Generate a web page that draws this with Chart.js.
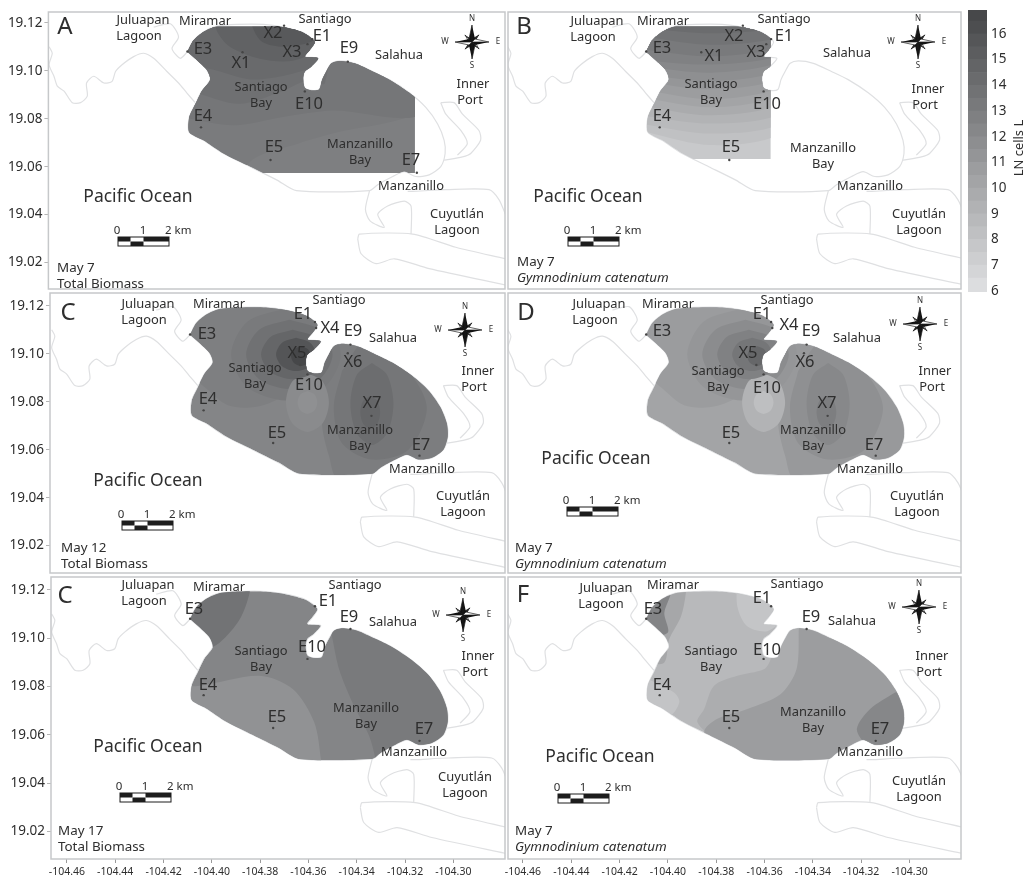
<!DOCTYPE html>
<html>
<head>
<meta charset="utf-8">
<title>Biomass maps</title>
<script src="https://cdn.jsdelivr.net/npm/chart.js@4/dist/chart.umd.min.js"></script>
<style>
  html, body { margin: 0; padding: 0; background: #fff; }
  body { width: 1029px; height: 878px; position: relative; overflow: hidden; }
  canvas { position: absolute; }
</style>
</head>
<body>
<script>
/*
  ==================================================
  ====================== DATA ======================
  ==================================================
*/
const lonTicks = [-104.46, -104.44, -104.42, -104.40, -104.38, -104.36, -104.34, -104.32, -104.30];
const latTicks = [19.12, 19.10, 19.08, 19.06, 19.04, 19.02];
const colorbarTicks = [6, 7, 8, 9, 10, 11, 12, 13, 14, 15, 16];
const colorbarEdges = [5.96, 6.5, 7, 7.5, 8, 8.5, 9, 9.5, 10, 10.5, 11, 11.5, 12, 12.5, 13, 13.5, 14, 14.5, 15, 15.5, 16, 16.5, 16.93];

const domainOutline = [[-104.409,19.1079],[-104.4065,19.1127],[-104.4024,19.1162],[-104.3969,19.1186],[-104.3886,19.1193],[-104.3776,19.1193],[-104.3694,19.1182],[-104.3611,19.1159],[-104.3563,19.1121],[-104.3584,19.1086],[-104.3604,19.1059],[-104.3549,19.1052],[-104.3577,19.1018],[-104.3604,19.0997],[-104.3611,19.097],[-104.3604,19.0929],[-104.3577,19.0918],[-104.3545,19.0922],[-104.3532,19.0963],[-104.3515,19.0997],[-104.3494,19.1031],[-104.346,19.1041],[-104.3398,19.1031],[-104.3323,19.0997],[-104.3254,19.0963],[-104.3171,19.0908],[-104.3103,19.0847],[-104.3054,19.0778],[-104.3027,19.071],[-104.3023,19.0655],[-104.3041,19.06],[-104.3089,19.0566],[-104.3144,19.0559],[-104.3192,19.0579],[-104.324,19.0559],[-104.3302,19.0525],[-104.3336,19.05],[-104.3639,19.05],[-104.3721,19.0545],[-104.3831,19.06],[-104.3941,19.0655],[-104.4024,19.071],[-104.4083,19.0744],[-104.4083,19.0805],[-104.4058,19.086],[-104.4031,19.0915],[-104.3996,19.0963],[-104.401,19.1004],[-104.4051,19.1045]];

const coastWest = [[-104.4663,19.11],[-104.465,19.1073],[-104.4663,19.1025],[-104.4643,19.0977],[-104.4629,19.0936],[-104.4601,19.0915],[-104.4567,19.0867],[-104.4533,19.0867],[-104.4505,19.0894],[-104.4508,19.0949],[-104.4478,19.0977],[-104.4436,19.0949],[-104.4402,19.0956],[-104.4388,19.0997],[-104.4361,19.1025],[-104.4313,19.1059],[-104.4271,19.1073],[-104.423,19.1052],[-104.4175,19.0997],[-104.4127,19.0949],[-104.4093,19.0908],[-104.4058,19.0867]];
const coastLagoon = [[-104.423,19.1182],[-104.4161,19.1196],[-104.4127,19.1141],[-104.4154,19.1093],[-104.412,19.1052],[-104.409,19.1079]];
const coastPortOuter = [[-104.3041,19.0867],[-104.2986,19.0867],[-104.2951,19.0819],[-104.2883,19.0751],[-104.2876,19.071],[-104.2917,19.0655],[-104.2951,19.0641],[-104.3027,19.0627]];
const coastPortInner = [[-104.3041,19.0867],[-104.302,19.0819],[-104.2958,19.0751],[-104.2931,19.0696],[-104.2972,19.0648]];
const coastManzanillo = [[-104.3336,19.05],[-104.3353,19.0422],[-104.3334,19.0374],[-104.3275,19.0347],[-104.3302,19.0401],[-104.3261,19.0436],[-104.3192,19.0456],[-104.3164,19.0436],[-104.3164,19.0319]];
const coastCuyutlan = [[-104.3178,19.0497],[-104.3158,19.0497],[-104.302,19.0504],[-104.2841,19.0504],[-104.28,19.0463],[-104.2773,19.0401]];
const coastBarNorth = [[-104.3385,19.0299],[-104.3378,19.0319],[-104.3158,19.0319],[-104.2979,19.0264],[-104.2773,19.0216]];
const coastBarSouth = [[-104.3385,19.0299],[-104.3371,19.0237],[-104.3309,19.0196],[-104.3233,19.0216],[-104.3089,19.0175],[-104.2773,19.0107]];
const coastLines = [coastWest, coastLagoon, coastPortOuter, coastPortInner, coastManzanillo, coastCuyutlan, coastBarNorth, coastBarSouth];

const E1 = [-104.3573,19.1132], E3 = [-104.409,19.108], E4 = [-104.4034,19.0764], E5 = [-104.3746,19.0628], E7 = [-104.314,19.0575], E9 = [-104.3426,19.1038], E10 = [-104.3604,19.0914];
const X1 = [-104.3862,19.1077], X2 = [-104.369,19.1188], X3 = [-104.3593,19.1111], X4 = [-104.3568,19.1107], X5 = [-104.3634,19.0953], X6 = [-104.3437,19.1002], X7 = [-104.3339,19.0741];
const stationsA = [E1,E3,E4,E5,E7,E9,E10,X1,X2,X3];
const stationsB = [E1,E3,E4,E5,E10,X1,X2,X3];
const stationsC = [E1,E3,E4,E5,E7,E9,E10,X4,X5,X6,X7];
const stationsD = [E1,E3,E5,E7,E9,E10,X4,X5,X6,X7];
const stationsLow = [E1,E3,E4,E5,E7,E9,E10];

// far corners, always outside the clipped sea area
const NW = [-104.47,19.14], NE = [-104.27,19.14], SE = [-104.27,19.0], SW = [-104.47,19.0];

const contoursA = [
  [[-104.39,19.05],[-104.382,19.063],[-104.363,19.0697],[-104.349,19.0738],[-104.31,19.085],NE,NW,SW],
  [[-104.415,19.0814],[-104.39,19.0773],[-104.3695,19.0807],[-104.349,19.0834],[-104.31,19.0827],NE,NW],
  [[-104.41,19.092],[-104.404,19.0903],[-104.3875,19.0862],[-104.3695,19.0916],[-104.36,19.0957],[-104.352,19.095],[-104.352,19.13],[-104.41,19.13]],
  [[-104.41,19.103],[-104.3985,19.1005],[-104.383,19.0964],[-104.3695,19.0978],[-104.3588,19.1005],[-104.352,19.1005],[-104.352,19.13],[-104.41,19.13]],
  [[-104.397,19.122],[-104.397,19.117],[-104.3916,19.1101],[-104.379,19.105],[-104.3655,19.1042],[-104.355,19.1095],[-104.352,19.122]],
  [[-104.382,19.122],[-104.382,19.118],[-104.378,19.112],[-104.3685,19.11],[-104.3565,19.1129],[-104.352,19.122]]
];
const baseA = 12.8;
const levelsA = [13.1, 13.5, 13.9, 14.3, 14.9, 15.5];

const contoursB = [
  [[-104.415,19.076],[-104.382,19.069],[-104.352,19.0745],NE,NW],
  [[-104.415,19.0786],[-104.382,19.0738],[-104.352,19.0786],NE,NW],
  [[-104.415,19.082],[-104.382,19.078],[-104.352,19.0827],NE,NW],
  [[-104.415,19.0862],[-104.382,19.0814],[-104.352,19.0868],NE,NW],
  [[-104.415,19.0896],[-104.382,19.0848],[-104.352,19.0903],NE,NW],
  [[-104.415,19.093],[-104.382,19.0882],[-104.352,19.0937],NE,NW],
  [[-104.415,19.0964],[-104.382,19.0923],[-104.352,19.0971],NE,NW],
  [[-104.415,19.0992],[-104.382,19.0957],[-104.352,19.1005],NE,NW],
  [[-104.415,19.1026],[-104.382,19.0992],[-104.352,19.104],NE,NW],
  [[-104.415,19.1047],[-104.382,19.1026],[-104.352,19.1067],NE,NW],
  [[-104.415,19.1095],[-104.382,19.106],[-104.352,19.1101],NE,NW],
  [[-104.415,19.115],[-104.382,19.1108],[-104.352,19.1142],NE,NW],
  [[-104.415,19.1184],[-104.382,19.1156],[-104.352,19.1184],NE,NW]
];
const baseB = 7.6;
const levelsB = [8.2, 8.7, 9.2, 9.7, 10.2, 10.7, 11.2, 11.7, 12.2, 12.7, 13.2, 13.7, 14.2];

const contoursMay12 = [
  [[-104.42,19.1],[-104.4029,19.086],[-104.3933,19.0785],[-104.3823,19.0778],[-104.3713,19.0819],[-104.3603,19.0929],[-104.3575,19.125],[-104.42,19.125]],
  [[-104.3502,19.1066],[-104.3535,19.0914],[-104.3544,19.0708],[-104.3514,19.0572],[-104.3473,19.0476],[-104.2952,19.0476],[-104.2952,19.1066]],
  [[-104.3461,19.0928],[-104.3495,19.0777],[-104.3461,19.0627],[-104.3337,19.0559],[-104.3186,19.06],[-104.311,19.0777],[-104.3199,19.0941],[-104.3364,19.1051],[-104.3461,19.0928]],
  [[-104.3337,19.0961],[-104.3274,19.0911],[-104.3248,19.079],[-104.3274,19.0669],[-104.3337,19.0619],[-104.34,19.0669],[-104.3426,19.079],[-104.34,19.0911],[-104.3337,19.0961]],
  [[-104.3344,19.0824],[-104.3315,19.0804],[-104.3303,19.0756],[-104.3315,19.0708],[-104.3344,19.0688],[-104.3373,19.0708],[-104.3385,19.0756],[-104.3373,19.0804],[-104.3344,19.0824]],
  [[-104.3693,19.1189],[-104.3533,19.1133],[-104.3466,19.0997],[-104.3533,19.0861],[-104.3693,19.0805],[-104.3853,19.0861],[-104.392,19.0997],[-104.3853,19.1133],[-104.3693,19.1189]],
  [[-104.3679,19.1141],[-104.3553,19.1099],[-104.35,19.0997],[-104.3553,19.0895],[-104.3679,19.0853],[-104.3805,19.0895],[-104.3858,19.0997],[-104.3805,19.1099],[-104.3679,19.1141]],
  [[-104.3604,19.092],[-104.3541,19.0884],[-104.3515,19.0797],[-104.3541,19.071],[-104.3604,19.0674],[-104.3667,19.071],[-104.3693,19.0797],[-104.3667,19.0884],[-104.3604,19.092]],
  [[-104.3604,19.0845],[-104.3575,19.0831],[-104.3563,19.0797],[-104.3575,19.0763],[-104.3604,19.0749],[-104.3633,19.0763],[-104.3645,19.0797],[-104.3633,19.0831],[-104.3604,19.0845]],
  [[-104.3665,19.11],[-104.3573,19.107],[-104.3534,19.0997],[-104.3573,19.0924],[-104.3665,19.0894],[-104.3757,19.0924],[-104.3796,19.0997],[-104.3757,19.107],[-104.3665,19.11]],
  [[-104.3651,19.1066],[-104.3593,19.1046],[-104.3568,19.0997],[-104.3593,19.0948],[-104.3651,19.0928],[-104.3709,19.0948],[-104.3734,19.0997],[-104.3709,19.1046],[-104.3651,19.1066]],
  [[-104.3631,19.1031],[-104.3602,19.1019],[-104.359,19.099],[-104.3602,19.0961],[-104.3631,19.0949],[-104.366,19.0961],[-104.3672,19.099],[-104.366,19.1019],[-104.3631,19.1031]]
];
const baseC = 12.4;
const levelsC = [12.8, 13.0, 13.5, 14.1, 14.6, 13.2, 13.8, 12.0, 11.6, 14.6, 15.8, 16.8];
const baseD = 10.2;
const levelsD = [10.8, 11.0, 11.6, 12.2, 12.9, 11.2, 11.9, 9.2, 8.3, 12.7, 13.5, 14.5];

const contoursE = [
  [[-104.3844,19.125],[-104.3844,19.1186],[-104.3885,19.1077],[-104.3968,19.0981],[-104.41,19.09],SW,NW],
  [[-104.42,19.08],[-104.405,19.0803],[-104.3803,19.0844],[-104.3665,19.0789],[-104.3576,19.0652],[-104.3548,19.0497],[-104.354,19.04],SW],
  [[-104.352,19.11],[-104.35,19.0995],[-104.3473,19.0871],[-104.3418,19.0734],[-104.3349,19.0597],[-104.3322,19.0497],[-104.331,19.04],SE,NE]
];
const baseE = 12.4;
const levelsE = [13.7, 11.5, 13.2];

const contoursF = [
  [[-104.3926,19.125],[-104.3926,19.1186],[-104.3946,19.109],[-104.3995,19.0995],[-104.4015,19.0899],[-104.4084,19.0892],[-104.42,19.089],[-104.42,19.125]],
  [[-104.3988,19.125],[-104.3988,19.1186],[-104.4015,19.1104],[-104.4001,19.1022],[-104.4098,19.1008],[-104.42,19.1],[-104.42,19.125]],
  [[-104.3713,19.125],[-104.3713,19.1132],[-104.3672,19.1049],[-104.3589,19.1029],[-104.3534,19.1077],[-104.3534,19.125]],
  [[-104.3548,19.1008],[-104.3575,19.0912],[-104.3603,19.0871],[-104.3713,19.0844],[-104.3809,19.0803],[-104.385,19.0707],[-104.3878,19.0652],[-104.3795,19.057],[-104.3713,19.0488],SE,NE],
  [[-104.3458,19.1049],[-104.3468,19.0871],[-104.3534,19.0768],[-104.3671,19.0707],[-104.3795,19.0666],[-104.385,19.0611],[-104.38,19.04],SE,NE],
  [[-104.306,19.0775],[-104.3163,19.0707],[-104.3218,19.0625],[-104.3183,19.0556],[-104.31,19.04],SE,[-104.29,19.08]],
  [[-104.41,19.084],[-104.3975,19.0775],[-104.3953,19.0735],[-104.3995,19.0675],[-104.41,19.067]]
];
const baseF = 8.75;
const levelsF = [10.0, 12.5, 7.9, 9.6, 10.7, 12.3, 8.0];

/* map labels: text, page x, page y, kind */
const labelsA = [['A',65,27,'l'],['Juluapan',143,20,'m'],['Lagoon',139,36,'m'],['Miramar',205,21,'m'],['Santiago',325,19,'m'],['Salahua',399,55,'m'],['Inner',473,84,'m'],['Port',470,100,'m'],['Santiago',261,87,'m'],['Bay',261,103,'m'],['Manzanillo',360,144,'m'],['Bay',360,160,'m'],['Manzanillo',411,186,'m'],['Cuyutlán',457,214,'m'],['Lagoon',457,230,'m'],['Pacific Ocean',138,197,'o'],['E3',203,49,'b'],['E4',203,116,'b'],['E5',274,147,'b'],['E7',411,160,'b'],['E10',309,104,'b'],['E1',322,36,'b'],['E9',349,48,'b'],['X1',241,63,'b'],['X2',273,33,'b'],['X3',292,52,'b'],['May 7',57,268,'d'],['Total Biomass',57,284,'d']];
const labelsB = [['B',524,27,'l'],['Juluapan',597,21,'m'],['Lagoon',593,37,'m'],['Miramar',663,21,'m'],['Santiago',784,19,'m'],['Salahua',847,53,'m'],['Inner',928,89,'m'],['Port',925,105,'m'],['Santiago',711,84,'m'],['Bay',711,100,'m'],['Manzanillo',823,148,'m'],['Bay',823,164,'m'],['Manzanillo',870,186,'m'],['Cuyutlán',919,214,'m'],['Lagoon',919,230,'m'],['Pacific Ocean',588,197,'o'],['E3',662,48,'b'],['X1',714,56,'b'],['X2',734,36,'b'],['X3',756,52,'b'],['E1',784,36,'b'],['E4',662,116,'b'],['E10',767,104,'b'],['E5',731,147,'b'],['May 7',517,262,'d'],['Gymnodinium catenatum',517,278,'i']];
const labelsC = [['C',68,313,'l'],['Juluapan',148,304,'m'],['Lagoon',144,320,'m'],['Miramar',219,304,'m'],['Santiago',339,300,'m'],['Salahua',393,338,'m'],['Inner',478,371,'m'],['Port',474,387,'m'],['Santiago',255,368,'m'],['Bay',255,384,'m'],['Manzanillo',360,430,'m'],['Bay',360,446,'m'],['Manzanillo',422,469,'m'],['Cuyutlán',463,496,'m'],['Lagoon',463,512,'m'],['Pacific Ocean',148,481,'o'],['E3',207,334,'b'],['E1',303,314,'b'],['X4',330,328,'b'],['E9',353,331,'b'],['X5',297,353,'b'],['X6',353,362,'b'],['E10',309,385,'b'],['E4',208,399,'b'],['X7',372,403,'b'],['E5',277,433,'b'],['E7',421,445,'b'],['May 12',61,548,'d'],['Total Biomass',61,564,'d']];
const labelsD = [['D',526,313,'l'],['Juluapan',599,304,'m'],['Lagoon',595,320,'m'],['Miramar',668,304,'m'],['Santiago',787,300,'m'],['Salahua',857,338,'m'],['Inner',935,371,'m'],['Port',932,387,'m'],['Santiago',718,371,'m'],['Bay',718,387,'m'],['Manzanillo',813,430,'m'],['Bay',813,446,'m'],['Manzanillo',870,469,'m'],['Cuyutlán',917,496,'m'],['Lagoon',917,512,'m'],['Pacific Ocean',596,459,'o'],['E3',662,331,'b'],['E1',762,314,'b'],['X4',789,325,'b'],['E9',811,331,'b'],['X5',748,353,'b'],['X6',805,362,'b'],['E10',767,388,'b'],['X7',827,403,'b'],['E5',731,433,'b'],['E7',874,445,'b'],['May 7',515,548,'d'],['Gymnodinium catenatum',515,564,'i']];
const labelsE = [['C',65,596,'l'],['Juluapan',148,585,'m'],['Lagoon',144,601,'m'],['Miramar',219,587,'m'],['Santiago',355,585,'m'],['Salahua',393,622,'m'],['Inner',478,656,'m'],['Port',475,672,'m'],['Santiago',261,651,'m'],['Bay',261,667,'m'],['Manzanillo',366,708,'m'],['Bay',366,724,'m'],['Manzanillo',414,752,'m'],['Cuyutlán',465,777,'m'],['Lagoon',465,793,'m'],['Pacific Ocean',148,747,'o'],['E3',194,609,'b'],['E1',328,601,'b'],['E9',349,617,'b'],['E10',312,647,'b'],['E4',208,685,'b'],['E5',277,717,'b'],['E7',424,729,'b'],['May 17',58,831,'d'],['Total Biomass',58,847,'d']];
const labelsF = [['F',523,595,'l'],['Juluapan',606,588,'m'],['Lagoon',601,604,'m'],['Miramar',673,585,'m'],['Santiago',797,584,'m'],['Salahua',852,621,'m'],['Inner',932,656,'m'],['Port',929,672,'m'],['Santiago',711,651,'m'],['Bay',711,667,'m'],['Manzanillo',813,712,'m'],['Bay',813,728,'m'],['Manzanillo',870,752,'m'],['Cuyutlán',919,781,'m'],['Lagoon',919,797,'m'],['Pacific Ocean',600,757,'o'],['E3',653,609,'b'],['E1',762,598,'b'],['E9',811,617,'b'],['E10',767,650,'b'],['E4',662,685,'b'],['E5',731,717,'b'],['E7',880,729,'b'],['May 7',515,831,'d'],['Gymnodinium catenatum',515,847,'i']];

/*
  ==================================================
  ===================== LAYOUT =====================
  ==================================================
*/
const FONT = '"Noto Sans", sans-serif';
const INK = '#2e2e2e';
const COAST = '#dfe0e2';
const FRAME = '#c6c8ca';
const labelFonts = {
  m: `12.9px ${FONT}`, b: `16.5px ${FONT}`, o: `17.5px ${FONT}`, l: `24px ${FONT}`,
  d: `13.4px ${FONT}`, i: `italic 13.4px ${FONT}`
};

const panels = [
  { l: 48.4, r: 507, t: 10, b: 291, lon: [-104.4666, -104.2775], lat: [19.1245, 19.009], left: true, bottom: false,
    contours: contoursA, levels: levelsA, base: baseA, stations: stationsA, labels: labelsA, scaleBar: [118, 237], compass: [472, 42],
    limit: { lon: -104.3148, latLow: 19.0574, latHigh: 19.1184 } },
  { l: 508, r: 963, t: 10, b: 291, lon: [-104.4662, -104.2787], lat: [19.1245, 19.009], left: false, bottom: false,
    contours: contoursB, levels: levelsB, base: baseB, stations: stationsB, labels: labelsB, scaleBar: [568, 237], compass: [918, 42],
    limit: { lon: -104.3575, latLow: 19.0632, latHigh: 19.1184 } },
  { l: 50, r: 507, t: 291, b: 575, lon: [-104.467, -104.2786], lat: [19.1253, 19.0086], left: true, bottom: false,
    contours: contoursMay12, levels: levelsC, base: baseC, stations: stationsC, labels: labelsC, scaleBar: [122, 521], compass: [465, 330] },
  { l: 508, r: 963, t: 291, b: 575, lon: [-104.4662, -104.2787], lat: [19.1253, 19.0086], left: false, bottom: false,
    contours: contoursMay12, levels: levelsD, base: baseD, stations: stationsD, labels: labelsD, scaleBar: [567, 507], compass: [920, 324] },
  { l: 51, r: 507, t: 575, b: 859, lon: [-104.4666, -104.2786], lat: [19.1253, 19.0086], left: true, bottom: true,
    contours: contoursE, levels: levelsE, base: baseE, stations: stationsLow, labels: labelsE, scaleBar: [120, 793], compass: [463, 615] },
  { l: 508, r: 963, t: 575, b: 859, lon: [-104.4662, -104.2787], lat: [19.1253, 19.0086], left: false, bottom: true,
    contours: contoursF, levels: levelsF, base: baseF, stations: stationsLow, labels: labelsF, scaleBar: [558, 794], compass: [919, 607] }
];

/* shade for a level, same ramp as the colour bar */
let grayAt = (level) => {
  let v = Math.round(Math.max(50, Math.min(230, 223 - (level - 6) * 14.2)));
  return `rgb(${v},${v + 1},${v + 3})`;
};
let toXY = (pts) => pts.map(([x, y]) => ({ x, y }));

let addCanvas = (left, top, width, height) => {
  let canvas = document.createElement('canvas');
  canvas.width = width;
  canvas.height = height;
  canvas.style.left = left + 'px';
  canvas.style.top = top + 'px';
  canvas.style.width = width + 'px';
  canvas.style.height = height + 'px';
  document.body.appendChild(canvas);
  return canvas;
};

/*
  ==================================================
  ==================== DECORATION ===================
  ==================================================
*/
let drawScaleBar = (ctx, [x0, y0]) => {
  let w = 51, h = 9, seg = [0, 12.5, 25.5, 51];
  ctx.fillStyle = '#fff';
  ctx.fillRect(x0, y0, w, h);
  ctx.fillStyle = '#1d1d1d';
  ctx.fillRect(x0 + seg[0], y0, seg[1] - seg[0], h / 2);
  ctx.fillRect(x0 + seg[1], y0 + h / 2, seg[2] - seg[1], h / 2);
  ctx.fillRect(x0 + seg[2], y0, seg[3] - seg[2], h / 2);
  ctx.strokeStyle = '#1d1d1d';
  ctx.lineWidth = 1;
  ctx.strokeRect(x0, y0, w, h);
  ctx.fillStyle = INK;
  ctx.font = `11.5px ${FONT}`;
  ctx.textAlign = 'center';
  ctx.textBaseline = 'middle';
  ctx.fillText('0', x0 - 1, y0 - 6);
  ctx.fillText('1', x0 + 25, y0 - 6);
  ctx.textAlign = 'left';
  ctx.fillText('2 km', x0 + 47, y0 - 6);
};

let drawCompass = (ctx, [cx, cy]) => {
  ctx.save();
  ctx.translate(cx, cy);
  ctx.lineWidth = 0.7;
  ctx.strokeStyle = '#1d1d1d';
  let arm = (len, half) => {
    for (let i = 0; i < 4; i++) {
      ctx.beginPath();
      ctx.moveTo(0, 0); ctx.lineTo(half, -half); ctx.lineTo(0, -len); ctx.closePath();
      ctx.fillStyle = '#111'; ctx.fill();
      ctx.beginPath();
      ctx.moveTo(0, 0); ctx.lineTo(-half, -half); ctx.lineTo(0, -len); ctx.closePath();
      ctx.fillStyle = i % 2 ? '#fff' : '#111'; ctx.fill(); ctx.stroke();
      ctx.rotate(Math.PI / 2);
    }
  };
  ctx.rotate(Math.PI / 4);
  arm(10, 2);
  ctx.rotate(-Math.PI / 4);
  arm(17, 3);
  ctx.fillStyle = INK;
  ctx.font = `8px ${FONT}`;
  ctx.textAlign = 'center';
  ctx.textBaseline = 'middle';
  ctx.fillText('N', 0, -23);
  ctx.fillText('S', 0, 24);
  ctx.fillText('W', -27, 0);
  ctx.fillText('E', 26, 0);
  ctx.restore();
};

/*
  ==================================================
  ===================== PLUGIN =====================
  ==================================================
*/
let mapPlugin = (panel, offX, offY) => ({
  id: 'mapFill',
  beforeDatasetDraw(chart, { index, meta }) {
    let ds = chart.data.datasets[index];
    if (!ds.region) return;

    let { ctx, scales: { x, y }, chartArea } = chart;
    let domain = chart.getDatasetMeta(coastLines.length);
    let trace = (m) => {
      m.dataset.updateControlPoints(chartArea, 'x');
      ctx.beginPath();
      m.dataset.path(ctx);
      ctx.closePath();
    };

    ctx.save();
    if (ds.region == 'domain') {
      trace(meta);
      ctx.strokeStyle = COAST;
      ctx.lineWidth = 1.2;
      ctx.stroke();
    }
    trace(domain);
    ctx.clip();
    if (panel.limit) {
      let top = y.getPixelForValue(panel.limit.latHigh);
      let right = x.getPixelForValue(panel.limit.lon);
      let low = y.getPixelForValue(panel.limit.latLow);
      ctx.beginPath();
      ctx.rect(chartArea.left, top, right - chartArea.left, low - top);
      ctx.clip();
    }
    trace(meta);
    ctx.fillStyle = ds.backgroundColor;
    ctx.fill();
    ctx.restore();
    return false;
  },
  afterDraw(chart) {
    let { ctx, chartArea: a } = chart;
    ctx.save();
    ctx.strokeStyle = FRAME;
    ctx.lineWidth = 1.5;
    ctx.strokeRect(a.left, a.top, a.right - a.left, a.bottom - a.top);

    ctx.translate(-offX, -offY);
    drawScaleBar(ctx, panel.scaleBar);
    drawCompass(ctx, panel.compass);

    ctx.fillStyle = INK;
    ctx.textBaseline = 'middle';
    panel.labels.forEach(([text, px, py, kind]) => {
      ctx.font = labelFonts[kind];
      ctx.textAlign = kind == 'd' || kind == 'i' ? 'left' : 'center';
      ctx.fillText(text, px, py);
    });
    ctx.restore();
  }
});

/*
  ==================================================
  ====================== MAPS ======================
  ==================================================
*/
Chart.defaults.font.family = FONT;

panels.forEach((panel) => {
  let padLeft = panel.left ? 0 : 8;
  let canvasLeft = panel.left ? 0 : panel.l - padLeft;
  let canvasTop = panel.t - 2;
  let canvasRight = panel.r + 2;
  let canvasBottom = panel.bottom ? 878 : panel.b + 2;

  let lines = coastLines.map((pts) => ({
    data: toXY(pts), showLine: true, tension: 0.25, borderColor: COAST, borderWidth: 1.2, pointRadius: 0
  }));
  let domain = {
    region: 'domain', data: toXY(domainOutline), showLine: true, tension: 0.25, pointRadius: 0,
    backgroundColor: grayAt(panel.base)
  };
  let bands = panel.contours.map((pts, i) => ({
    region: 'band', data: toXY(pts), showLine: true, tension: 0.3, pointRadius: 0,
    backgroundColor: grayAt(panel.levels[i])
  }));
  let points = {
    data: toXY(panel.stations), showLine: false, pointRadius: 1.2,
    pointBackgroundColor: '#454545', pointBorderWidth: 0
  };
  let datasets = [...lines, domain, ...bands, points].map((d, i, all) => ({ ...d, order: all.length - i }));

  new Chart(addCanvas(canvasLeft, canvasTop, canvasRight - canvasLeft, canvasBottom - canvasTop), {
    type: 'scatter',
    data: { datasets },
    plugins: [mapPlugin(panel, canvasLeft, canvasTop)],
    options: {
      responsive: false,
      animation: false,
      devicePixelRatio: 1,
      layout: { padding: { left: padLeft, top: 2, right: 2, bottom: panel.bottom ? 0 : 2 } },
      plugins: { legend: { display: false }, tooltip: { enabled: false } },
      scales: {
        x: {
          type: 'linear',
          display: panel.bottom,
          min: panel.lon[0],
          max: panel.lon[1],
          afterBuildTicks: (s) => { s.ticks = lonTicks.map((value) => ({ value })); },
          afterFit: (s) => {
            s.paddingLeft = s.paddingRight = 0;
            if (panel.bottom) s.height = 878 - panel.b;
          },
          grid: { drawOnChartArea: false, tickLength: 4, color: '#9a9a9a' },
          border: { display: false },
          ticks: {
            autoSkip: false, maxRotation: 0, padding: 3, color: INK,
            font: { size: 10.5 },
            callback: (v) => v.toFixed(2)
          }
        },
        y: {
          type: 'linear',
          display: panel.left,
          min: panel.lat[1],
          max: panel.lat[0],
          afterBuildTicks: (s) => { s.ticks = latTicks.map((value) => ({ value })); },
          afterFit: (s) => {
            s.paddingTop = s.paddingBottom = 0;
            if (panel.left) s.width = panel.l;
          },
          grid: { drawOnChartArea: false, tickLength: 4, color: '#b5b5b5' },
          border: { display: false },
          ticks: {
            autoSkip: false, padding: 2, color: INK,
            font: { size: 13.5 },
            callback: (v) => v.toFixed(2)
          }
        }
      }
    }
  });
});

/*
  ==================================================
  =================== COLOUR BAR ===================
  ==================================================
*/
let barBands = colorbarEdges.slice(1).map((hi, i) => {
  let lo = colorbarEdges[i];
  return {
    data: [[lo, hi]], backgroundColor: grayAt((lo + hi) / 2), grouped: false,
    barPercentage: 1, categoryPercentage: 1
  };
});

new Chart(addCanvas(968, 2, 61, 298), {
  type: 'bar',
  data: { labels: ['LN'], datasets: barBands },
  plugins: [{
    id: 'barTitle',
    afterDraw(chart) {
      let { ctx } = chart;
      ctx.save();
      ctx.translate(1019 - 968, 148 - 2);
      ctx.rotate(-Math.PI / 2);
      ctx.fillStyle = INK;
      ctx.font = `12.9px ${FONT}`;
      ctx.textAlign = 'center';
      ctx.textBaseline = 'middle';
      ctx.fillText('LN cells L', 0, 0);
      ctx.restore();
    }
  }],
  options: {
    responsive: false,
    animation: false,
    devicePixelRatio: 1,
    layout: { padding: { top: 8, bottom: 8, left: 0, right: 0 } },
    plugins: { legend: { display: false }, tooltip: { enabled: false } },
    scales: {
      x: { display: false },
      y: {
        position: 'right',
        min: 5.96,
        max: 16.93,
        afterBuildTicks: (s) => { s.ticks = colorbarTicks.map((value) => ({ value })); },
        afterFit: (s) => { s.width = 42; s.paddingTop = s.paddingBottom = 0; },
        grid: { display: false, drawTicks: false },
        border: { display: false },
        ticks: { autoSkip: false, padding: 4, color: INK, font: { size: 13.5 } }
      }
    }
  }
});
</script>
</body>
</html>
